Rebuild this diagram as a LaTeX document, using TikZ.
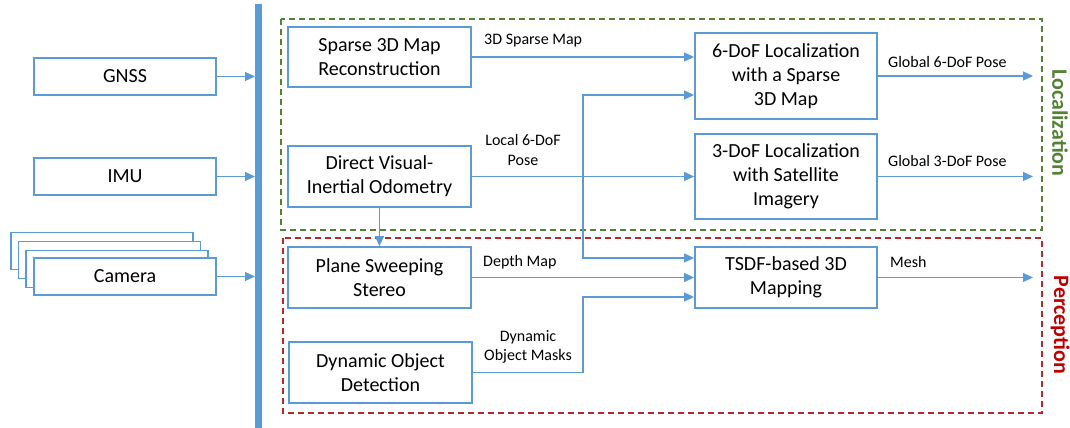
\documentclass[tikz,border=0pt]{standalone}
\usepackage{fontspec}
\setmainfont{Carlito}
\usetikzlibrary{arrows.meta,calc}
\definecolor{bblue}{HTML}{5B9BD5}
\definecolor{lgreen}{HTML}{548235}
\definecolor{pred}{HTML}{C00000}
\definecolor{dred}{HTML}{B22A2A}
\tikzset{
  box/.style={draw=bblue, line width=1.8pt, fill=white, minimum width=183pt, align=center, inner sep=2pt, font=\fontsize{20}{24}\selectfont},
  src/.style={box, minimum width=182pt, minimum height=37pt},
  conn/.style={draw=bblue, line width=1.2pt, -{Triangle[length=10pt,width=9pt]}},
  plain/.style={draw=bblue, line width=1.2pt},
  lbl/.style={font=\fontsize{16}{19.5}\selectfont, align=center, inner sep=0pt},
  grp/.style={dashed, line width=1.6pt, dash pattern=on 6pt off 4pt},
  side/.style={font=\fontsize{22}{26}\selectfont\bfseries, rotate=-90, inner sep=0pt}
}
\begin{document}
\begin{tikzpicture}[x=1pt,y=-1pt]
\useasboundingbox (0,0) rectangle (1070,428);
% group boxes
\draw[grp, draw=lgreen] (281,19) rectangle (1042,230);
\draw[grp, draw=dred] (283,238) rectangle (1042,413);
% bar
\draw[bblue, line width=7pt] (258.5,4) -- (258.5,428);
\coordinate (bar) at (255,0);
% sources
\node[src] (cam3) at (102,251) {};
\node[src] (cam2) at (109.5,260) {};
\node[src] (cam1) at (117,269) {};
\node[src] (gnss) at (125,76.5) {GNSS};
\node[src] (imu) at (125,176.5) {IMU};
\node[src] (cam) at (125,276.5) {Camera};
\draw[conn] (gnss.east) -- (gnss.east -| bar);
\draw[conn] (imu.east) -- (imu.east -| bar);
\draw[conn] (cam.east) -- (cam.east -| bar);
% processing nodes
\node[box, minimum height=60pt] (sparse) at (379.5,57) {Sparse 3D Map\\Reconstruction};
\node[box, minimum height=61pt] (dvio) at (379.5,176.5) {Direct Visual-\\Inertial Odometry};
\node[box, minimum width=182pt, minimum height=86pt] (loc6) at (786,76) {6-DoF Localization\\with a Sparse\\3D Map};
\node[box, minimum width=182pt, minimum height=85pt] (loc3) at (786,176.5) {3-DoF Localization\\with Satellite\\Imagery};
\node[box, minimum height=61pt] (pss) at (379.5,277.5) {Plane Sweeping\\Stereo};
\node[box, minimum height=61pt] (dod) at (380.5,372.5) {Dynamic Object\\Detection};
\node[box, minimum width=182pt, minimum height=61pt] (tsdf) at (786,277.5) {TSDF-based 3D\\Mapping};
% connectors
\coordinate (j) at (583,176.5);
\coordinate (out) at (1033,0);
\draw[conn] (sparse.east) -- (sparse.east -| loc6.west);
\draw[conn] (dvio.east) -- (loc3.west);
\draw[conn] (j) |- ($(loc6.west)+(0,19)$);
\draw[conn] (j) |- ($(tsdf.west)+(0,-19.5)$);
\draw[conn] (dvio.south) -- (pss.north);
\draw[conn] (pss.east) -- (tsdf.west);
\draw[conn] (dod.east) -- (dod.east -| j) |- ($(tsdf.west)+(0,19.5)$);
\draw[conn] (loc6.east) -- (loc6.east -| out);
\draw[conn] (loc3.east) -- (loc3.east -| out);
\draw[conn] (tsdf.east) -- (tsdf.east -| out);
% labels
\node[lbl, anchor=west] (l1) at (484,41) {3D Sparse Map};
\node[lbl] (l2) at (523,150) {Local 6-DoF\\Pose};
\node[lbl, anchor=west] (l3) at (483,262) {Depth Map};
\node[lbl] (l4) at (528,347) {Dynamic\\Object Masks};
\node[lbl, anchor=west] (l5) at (888,62) {Global 6-DoF Pose};
\node[lbl, anchor=west] (l6) at (888,161) {Global 3-DoF Pose};
\node[lbl, anchor=west] (l7) at (890,262) {Mesh};
\node[side, text=lgreen] (sl) at (1060,123) {Localization};
\node[side, text=pred] (sp) at (1060,325) {Perception};
\end{tikzpicture}
\end{document}
